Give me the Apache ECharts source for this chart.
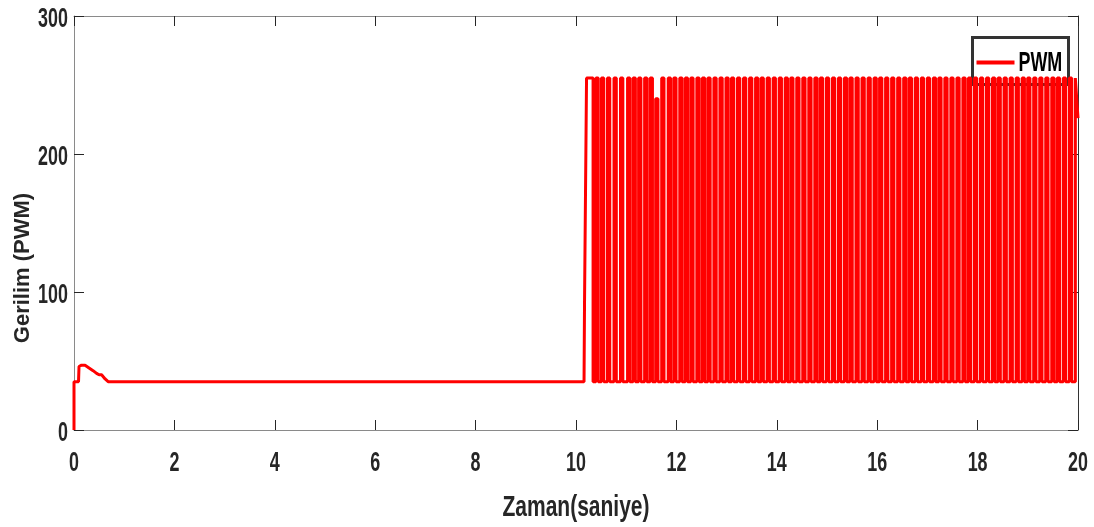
<!DOCTYPE html>
<html>
<head>
<meta charset="utf-8">
<script src="https://cdn.jsdelivr.net/npm/echarts@6/dist/echarts.min.js"></script>
<style>
  html, body { margin: 0; padding: 0; background: #fff; }
  #chart { width: 1094px; height: 527px; }
</style>
</head>
<body>
<div id="chart"></div>
<script>
// Start-up transient and idle level (time in s, PWM value)
const startTimes  = [0, 0, 0.09, 0.10, 0.15, 0.22, 0.30, 0.38, 0.45, 0.50, 0.55, 0.58, 0.62, 0.68, 10.16, 10.17, 10.21, 10.34, 10.34];
const startValues = [0, 35, 35, 46, 47, 47, 45, 43, 41, 40, 40, 39, 37, 35, 35, 93, 255, 255, 35];

// PWM pulses after 10 s: centre time of each pulse and its peak value
const pulseTimes = [
  10.42, 10.53, 10.65, 10.78, 10.91, 11.05, 11.16, 11.27, 11.39, 11.50, 11.61, 11.73, 11.86, 11.97,
  12.09, 12.20, 12.31, 12.43, 12.54, 12.65,
  12.77, 12.89, 13.01, 13.12, 13.24, 13.36, 13.48, 13.60, 13.71, 13.83, 13.95, 14.07, 14.19, 14.30,
  14.42, 14.54, 14.66, 14.78, 14.89, 15.01, 15.13, 15.25, 15.37, 15.48, 15.60, 15.72, 15.84, 15.96,
  16.07, 16.19, 16.31, 16.43, 16.55, 16.66, 16.78, 16.90, 17.02, 17.14, 17.25, 17.37, 17.49, 17.61,
  17.73, 17.84, 17.96, 18.08, 18.20, 18.32, 18.43, 18.55, 18.67, 18.79, 18.91, 19.02, 19.14, 19.26,
  19.38, 19.50, 19.61, 19.73, 19.85, 19.97
];
const pulsePeaks = pulseTimes.map(t => (t === 11.61 ? 240 : 255));
const pwmLow = 35;

// Final sample at the end of the run
const endTimes  = [20];
const endValues = [226];

const xTicks = [0, 2, 4, 6, 8, 10, 12, 14, 16, 18, 20];
const yTicks = [0, 100, 200, 300];
const seriesName = 'PWM';
const xTitle = 'Zaman(saniye)';
const yTitle = 'Gerilim (PWM)';

// Assemble the step signal
const pwmData = startTimes.map((t, i) => [t, startValues[i]]);
const halfWidth = 0.023;
pulseTimes.forEach((c, i) => {
  const last = i === pulseTimes.length - 1;
  pwmData.push([c - halfWidth, pwmLow], [c - halfWidth, pulsePeaks[i]]);
  if (!last) pwmData.push([c + halfWidth, pulsePeaks[i]], [c + halfWidth, pwmLow]);
});
endTimes.forEach((t, i) => pwmData.push([t, endValues[i]]));

const sans = "'Liberation Sans', Arial, sans-serif";
const frameGrey = '#8a8a8a';
const tickDark = '#262626';
const textDark = '#262626';
const red = '#ff0000';

const chart = echarts.init(document.getElementById('chart'), null, { renderer: 'canvas' });

const baseX = {
  type: 'value', min: xTicks[0], max: xTicks[xTicks.length - 1], interval: 2,
  splitLine: { show: false },
  axisLabel: { show: false },
  axisTick: { inside: true, length: 10, lineStyle: { color: tickDark, width: 1 } }
};
const baseY = {
  type: 'value', min: yTicks[0], max: yTicks[yTicks.length - 1], interval: 100,
  splitLine: { show: false },
  axisLabel: { show: false },
  axisTick: { inside: true, length: 10, lineStyle: { color: tickDark, width: 1 } }
};

chart.setOption({
  animation: false,
  backgroundColor: '#ffffff',
  grid: { left: 74, right: 16, top: 16, bottom: 97, containLabel: false },
  xAxis: [
    Object.assign({}, baseX, {
      position: 'bottom',
      axisLine: { show: true, onZero: false, lineStyle: { color: frameGrey, width: 1 } }
    }),
    Object.assign({}, baseX, {
      position: 'top',
      axisLine: { show: true, onZero: false, lineStyle: { color: frameGrey, width: 1 } }
    })
  ],
  yAxis: [
    Object.assign({}, baseY, {
      position: 'left',
      axisLine: { show: true, onZero: false, lineStyle: { color: frameGrey, width: 1 } }
    }),
    Object.assign({}, baseY, {
      position: 'right',
      axisLine: { show: true, onZero: false, lineStyle: { color: '#333333', width: 1 } }
    })
  ],
  series: [{
    name: seriesName,
    type: 'line',
    xAxisIndex: 0, yAxisIndex: 0,
    data: pwmData,
    showSymbol: false,
    symbol: 'none',
    sampling: null,
    clip: true,
    color: red,
    lineStyle: { color: red, width: 3 },
    z: 2
  }]
});

// Condensed bold tick labels placed through the axes' own scales
const labelFont = 'bold 28px ' + sans;
const squeeze = 0.64;
const graphics = [];
const yBase = chart.convertToPixel({ yAxisIndex: 0 }, yTicks[0]);
const xLeft = chart.convertToPixel({ xAxisIndex: 0 }, xTicks[0]);
const xRight = chart.convertToPixel({ xAxisIndex: 0 }, xTicks[xTicks.length - 1]);
xTicks.forEach(v => {
  graphics.push({
    type: 'text', x: chart.convertToPixel({ xAxisIndex: 0 }, v), y: yBase + 33,
    scaleX: squeeze,
    style: { text: String(v), font: labelFont, fill: textDark, align: 'center', verticalAlign: 'middle' }
  });
});
yTicks.forEach(v => {
  graphics.push({
    type: 'text', x: xLeft - 6, y: chart.convertToPixel({ yAxisIndex: 0 }, v) + 3,
    scaleX: squeeze, originX: 0,
    style: { text: String(v), font: labelFont, fill: textDark, align: 'right', verticalAlign: 'middle' }
  });
});

// Axis titles
graphics.push({
  type: 'text', x: (xLeft + xRight) / 2, y: yBase + 78,
  scaleX: 0.7,
  style: { text: xTitle, font: 'bold 30px ' + sans, fill: textDark, align: 'center', verticalAlign: 'middle' }
});
graphics.push({
  type: 'text', x: 12, y: 268, rotation: Math.PI / 2,
  style: { text: yTitle, font: 'bold 22px ' + sans, fill: textDark, align: 'center', verticalAlign: 'top' }
});

// Legend box with a line sample and the series name
graphics.push({
  type: 'group', left: 971, top: 36, z: 10,
  children: [
    { type: 'rect', shape: { x: 0, y: 0, width: 96, height: 47 },
      style: { fill: '#ffffff', stroke: '#333333', lineWidth: 3 } },
    { type: 'line', shape: { x1: 4, y1: 25, x2: 42, y2: 25 },
      style: { stroke: red, lineWidth: 4 } },
    { type: 'text', x: 46, y: 26, scaleX: squeeze,
      style: { text: seriesName, font: labelFont, fill: '#000000', align: 'left', verticalAlign: 'middle' } }
  ]
});

chart.setOption({ graphic: graphics });
</script>
</body>
</html>
